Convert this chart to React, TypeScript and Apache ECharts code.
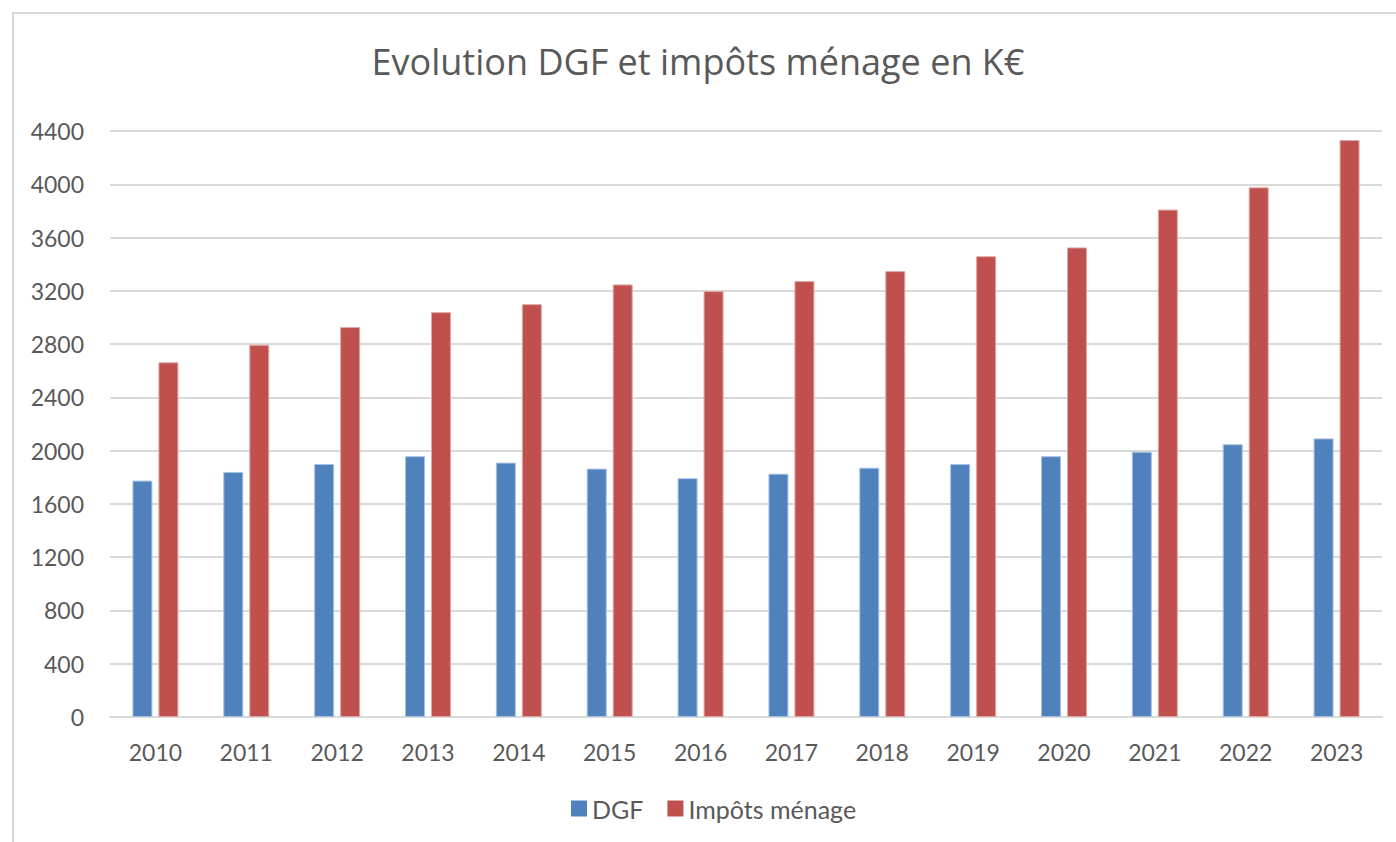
import React, { useEffect, useRef } from "react";
import * as echarts from "echarts";

const years = ["2010", "2011", "2012", "2013", "2014", "2015", "2016", "2017", "2018", "2019", "2020", "2021", "2022", "2023"];
const dgf = [1775, 1840, 1900, 1958, 1910, 1865, 1793, 1827, 1872, 1900, 1958, 1992, 2048, 2092];
const impots = [2663, 2795, 2928, 3040, 3100, 3248, 3198, 3273, 3348, 3460, 3526, 3810, 3977, 4332];
const titleText = "Evolution DGF et impôts ménage en K€";
const seriesNames = ["DGF", "Impôts ménage"];

const FONT = "Lato, 'Open Sans', sans-serif";
const TXT = "#595959";

export default function App() {
  const ref = useRef<HTMLDivElement>(null);
  useEffect(() => {
    if (!ref.current) return;
    const chart = echarts.init(ref.current, null, { renderer: "svg" });
    chart.setOption({
      animation: false,
      backgroundColor: "#ffffff",
      textStyle: { fontFamily: FONT },
      title: {
        text: titleText,
        left: "center",
        top: 38,
        textStyle: { fontFamily: "'Open Sans', sans-serif", fontSize: 36, fontWeight: "normal", color: TXT },
      },
      graphic: [
        {
          type: "rect",
          shape: { x: 13, y: 13, width: 1400, height: 900 },
          style: { fill: "none", stroke: "#d9d9d9", lineWidth: 2 },
          silent: true,
        },
      ],
      legend: {
        left: 566,
        top: 791,
        itemWidth: 16,
        itemHeight: 16,
        itemGap: 24,
        icon: "rect",
        itemStyle: { borderWidth: 0 },
        textStyle: { fontFamily: FONT, fontSize: 25, color: TXT },
        data: seriesNames,
      },
      grid: { left: 110, right: 14, top: 131, bottom: 125, containLabel: false },
      xAxis: {
        type: "category",
        data: years,
        axisLine: { lineStyle: { color: "#d9d9d9", width: 2 } },
        axisTick: { show: false },
        axisLabel: { fontFamily: FONT, fontSize: 23, color: TXT, margin: 23 },
      },
      yAxis: {
        type: "value",
        min: 0,
        max: 4400,
        interval: 400,
        axisLine: { show: false },
        axisTick: { show: false },
        splitLine: { lineStyle: { color: "#d9d9d9", width: 2 } },
        axisLabel: {
          fontFamily: FONT,
          fontSize: 23,
          color: TXT,
          margin: 26,
          formatter: (v: number) => String(v),
        },
      },
      series: [
        {
          name: seriesNames[0],
          type: "bar",
          data: dgf,
          barWidth: 20,
          barGap: "30%",
          itemStyle: { color: "#4F81BD", borderColor: "#a9c1e0", borderWidth: 1 },
        },
        {
          name: seriesNames[1],
          type: "bar",
          data: impots,
          barWidth: 20,
          barGap: "30%",
          itemStyle: { color: "#C0504D", borderColor: "#e0a8a6", borderWidth: 1 },
        },
      ],
    });
    return () => chart.dispose();
  }, []);
  return (
    <div
      ref={ref}
      style={{ position: "fixed", left: 0, top: 0, width: 1396, height: 842, background: "#fff" }}
    />
  );
}
